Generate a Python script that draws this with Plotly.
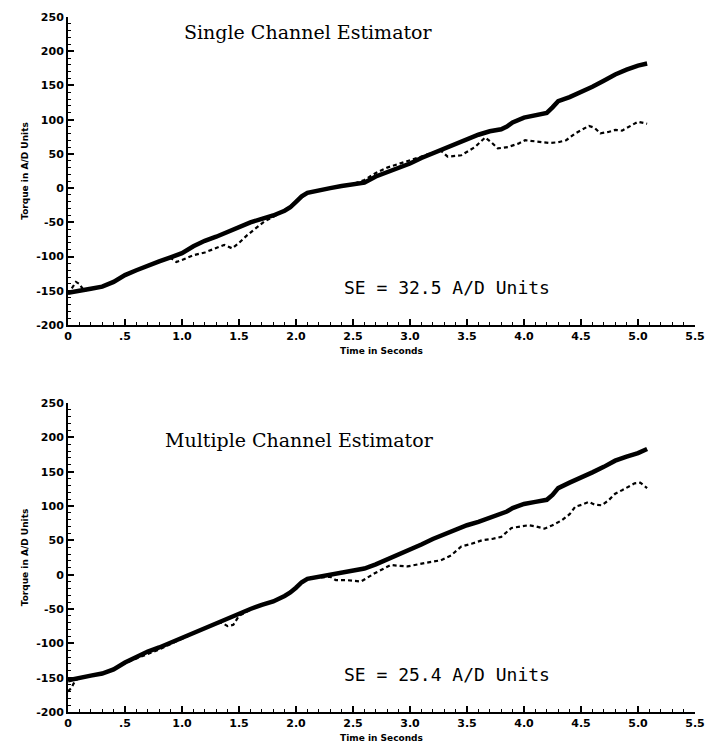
import plotly.graph_objects as go
from plotly.subplots import make_subplots

# ---------------- data ----------------
# Top panel: Single Channel Estimator
top_meas_t = [0.00, 0.05, 0.10, 0.20, 0.30, 0.40, 0.50, 0.60, 0.70, 0.80, 0.90, 1.00, 1.10, 1.20, 1.30,
              1.40, 1.50, 1.60, 1.70, 1.80, 1.90, 1.95, 2.00, 2.05, 2.10, 2.20, 2.30, 2.40, 2.50, 2.60,
              2.70, 2.80, 2.90, 3.00, 3.10, 3.20, 3.30, 3.40, 3.50, 3.60, 3.70, 3.80, 3.85, 3.90, 4.00,
              4.10, 4.20, 4.25, 4.30, 4.40, 4.50, 4.60, 4.70, 4.80, 4.90, 5.00, 5.08]
top_meas_v = [-153, -151, -150, -147, -144, -137, -127, -120, -113, -107, -101, -95, -85, -77, -71,
              -64, -57, -50, -45, -40, -33, -28, -20, -12, -7, -3, 0, 3, 5, 8,
              17, 23, 29, 36, 44, 51, 57, 65, 72, 78, 83, 86, 90, 96, 103,
              107, 110, 118, 127, 133, 140, 148, 157, 166, 173, 179, 182]

top_est_t = [0.00, 0.04, 0.07, 0.10, 0.14, 0.20, 0.30, 0.40, 0.50, 0.60, 0.70, 0.80, 0.90, 0.95,
             1.00, 1.10, 1.20, 1.30, 1.37, 1.44, 1.50, 1.57, 1.65, 1.72, 1.80, 1.84, 1.90, 2.00,
             2.10, 2.20, 2.30, 2.40, 2.50, 2.60, 2.70, 2.80, 2.90, 3.00, 3.10, 3.20, 3.27, 3.33,
             3.45, 3.57, 3.66, 3.72, 3.77, 3.86, 3.95, 4.01, 4.08, 4.15, 4.22, 4.30, 4.37, 4.45,
             4.52, 4.57, 4.62, 4.67, 4.74, 4.80, 4.86, 4.92, 5.00, 5.08]
top_est_v = [-155, -145, -137, -140, -150, -147, -144, -136, -127, -120, -113, -107, -102, -108,
             -105, -98, -94, -88, -83, -88, -80, -69, -58, -49, -42, -38, -33, -20,
             -7, -3, 0, 4, 6, 12, 22, 30, 35, 41, 46, 52, 55, 46,
             48, 60, 74, 66, 58, 60, 65, 70, 69, 68, 66, 67, 70, 80,
             87, 91, 88, 80, 82, 85, 84, 90, 97, 94]

# Bottom panel: Multiple Channel Estimator
bot_meas_t = [0.00, 0.05, 0.10, 0.20, 0.30, 0.40, 0.50, 0.60, 0.70, 0.80, 0.90, 1.00, 1.10, 1.20, 1.30,
              1.40, 1.50, 1.60, 1.70, 1.80, 1.90, 1.95, 2.00, 2.05, 2.10, 2.20, 2.30, 2.40, 2.50, 2.60,
              2.70, 2.80, 2.90, 3.00, 3.10, 3.20, 3.30, 3.40, 3.50, 3.60, 3.70, 3.80, 3.85, 3.90, 4.00,
              4.10, 4.20, 4.25, 4.30, 4.40, 4.50, 4.60, 4.70, 4.80, 4.90, 5.00, 5.08]
bot_meas_v = [-154, -152, -150, -147, -144, -138, -128, -120, -112, -106, -99, -92, -84, -77, -70,
              -63, -57, -50, -44, -39, -31, -26, -19, -11, -6, -3, 0, 3, 5, 9,
              15, 22, 29, 37, 44, 52, 59, 66, 72, 77, 83, 88, 92, 97, 103,
              106, 109, 116, 126, 134, 141, 149, 157, 166, 172, 177, 183]

bot_est_t = [0.00, 0.03, 0.06, 0.10, 0.20, 0.30, 0.40, 0.50, 0.60, 0.70, 0.80, 0.90, 1.00, 1.10,
             1.20, 1.30, 1.35, 1.40, 1.45, 1.50, 1.55, 1.60, 1.70, 1.80, 1.90, 2.00, 2.10, 2.20,
             2.30, 2.35, 2.45, 2.57, 2.69, 2.83, 2.98, 3.13, 3.27, 3.36, 3.45, 3.54, 3.63, 3.72,
             3.80, 3.89, 3.96, 4.04, 4.11, 4.18, 4.25, 4.33, 4.40, 4.45, 4.51, 4.57, 4.62, 4.68,
             4.74, 4.80, 4.86, 4.92, 4.97, 5.02, 5.08]
bot_est_v = [-170, -165, -155, -150, -147, -144, -138, -129, -122, -116, -109, -101, -93, -85,
             -78, -71, -70, -75, -73, -60, -55, -51, -44, -39, -31, -19, -6, -4,
             -3, -8, -8, -10, 2, 14, 12, 17, 21, 28, 41, 45, 50, 52,
             55, 68, 70, 72, 70, 67, 72, 79, 88, 99, 102, 106, 102, 101,
             108, 118, 123, 128, 133, 134, 126]

x_tickvals = [0, 0.5, 1.0, 1.5, 2.0, 2.5, 3.0, 3.5, 4.0, 4.5, 5.0, 5.5]
x_ticktext = ["0", ".5", "1.0", "1.5", "2.0", "2.5", "3.0", "3.5", "4.0", "4.5", "5.0", "5.5"]
y_tickvals = [-200, -150, -100, -50, 0, 50, 100, 150, 200, 250]
y_ticktext = ["-200", "-150", "-100", "-50", "0", "50", "100", "150", "200", "250"]

panel_titles = ["Single Channel Estimator", "Multiple Channel Estimator"]
se_texts = ["SE = 32.5 A/D Units", "SE = 25.4 A/D Units"]
x_title = "Time in Seconds"
y_title = "Torque in A/D Units"

# ---------------- figure ----------------
fig = make_subplots(rows=2, cols=1, vertical_spacing=0.1122)

series = [(top_meas_t, top_meas_v, top_est_t, top_est_v),
          (bot_meas_t, bot_meas_v, bot_est_t, bot_est_v)]
for i, (mt, mv, et, ev) in enumerate(series, start=1):
    fig.add_trace(go.Scatter(x=et, y=ev, mode="lines", showlegend=False,
                             line=dict(color="black", width=2.2, dash="4px,3px")), row=i, col=1)
    fig.add_trace(go.Scatter(x=mt, y=mv, mode="lines", showlegend=False,
                             line=dict(color="black", width=4.5)), row=i, col=1)

tickfont = dict(family="DejaVu Sans", size=11, color="black", weight="bold")
titlefont = dict(family="DejaVu Sans", size=9, color="black", weight="bold")

for i in (1, 2):
    fig.update_xaxes(row=i, col=1, range=[0, 5.5], tickmode="array", tickvals=x_tickvals,
                     ticktext=x_ticktext, ticks="inside", ticklen=6, tickwidth=1.5, tickcolor="black",
                     showline=True, linecolor="black", linewidth=2, showgrid=False, zeroline=False,
                     tickfont=tickfont, automargin=False,
                     minor=dict(tickmode="linear", tick0=0, dtick=0.1, ticks="inside", ticklen=3,
                                tickwidth=1.2, tickcolor="black", showgrid=False),
                     title=dict(text=x_title, font=titlefont, standoff=5))
    fig.update_yaxes(row=i, col=1, range=[-200, 250], tickmode="array", tickvals=y_tickvals,
                     ticktext=y_ticktext, ticks="inside", ticklen=6, tickwidth=1.5, tickcolor="black",
                     showline=True, linecolor="black", linewidth=2, showgrid=False, zeroline=False,
                     tickfont=tickfont, automargin=False,
                     minor=dict(tickmode="linear", tick0=0, dtick=10, ticks="inside", ticklen=3,
                                tickwidth=1.2, tickcolor="black", showgrid=False),
                     title=dict(text=y_title, font=titlefont, standoff=6))

title_pos = [(1.0, 228), (0.83, 196)]
se_pos = [(2.40, -145), (2.40, -146)]
for i, ax in enumerate(["", "2"]):
    fig.add_annotation(xref="x" + ax, yref="y" + ax, x=title_pos[i][0], y=title_pos[i][1],
                       text=panel_titles[i], showarrow=False, xanchor="left", yanchor="middle",
                       font=dict(family="DejaVu Serif", size=19, color="black"))
    fig.add_annotation(xref="x" + ax, yref="y" + ax, x=se_pos[i][0], y=se_pos[i][1],
                       text=se_texts[i], showarrow=False, xanchor="left", yanchor="middle",
                       font=dict(family="DejaVu Sans Mono", size=18, color="black"))

fig.update_layout(width=708, height=746, plot_bgcolor="white", paper_bgcolor="white",
                  margin=dict(l=68, r=13, t=17, b=34, autoexpand=False), showlegend=False)
fig.update_yaxes(domain=[0.5568, 1.0], row=1, col=1)
fig.update_yaxes(domain=[0.0, 0.4446], row=2, col=1)

# remove the default page margin so the 708x746 figure fills the window exactly
fig.write_html("out.html", config={"displayModeBar": False},
               post_script="document.body.style.margin='0';document.body.style.overflow='hidden';")
